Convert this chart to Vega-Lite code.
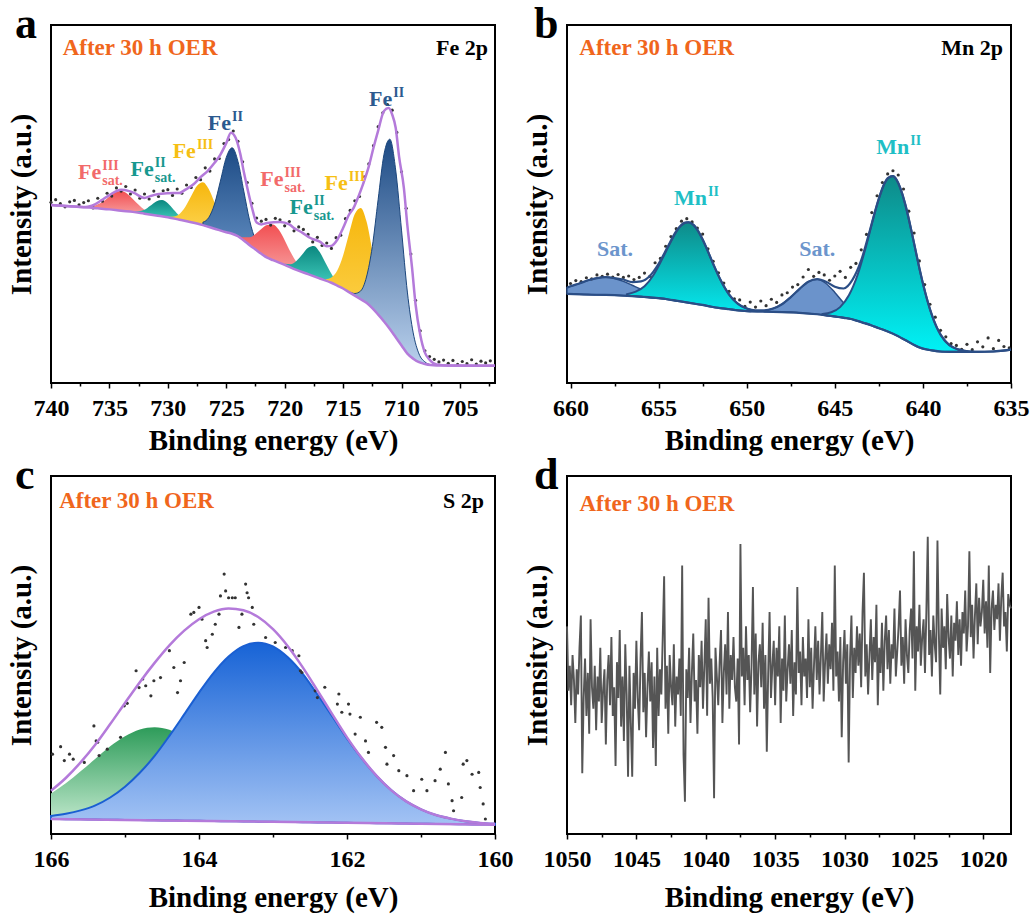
{
"$schema": "https://vega.github.io/schema/vega-lite/v6.json",
"background": "white",
"padding": {"left": 6, "top": 2, "right": 10, "bottom": 4},
"config": {
 "font": "Liberation Serif",
 "view": {"stroke": "#000000", "strokeWidth": 2},
 "axis": {"grid": false, "domain": false, "labelFont": "Liberation Serif", "labelFontWeight": "bold", "labelFontSize": 24, "labelColor": "#000000", "titleFont": "Liberation Serif", "titleFontWeight": "bold", "titleFontSize": 29, "titleColor": "#000000", "tickColor": "#000000", "tickWidth": 1.5},
 "axisX": {"tickSize": 5, "labelPadding": 8, "labelFlush": false, "labelOverlap": false, "format": "d"},
 "axisY": {"labels": false, "ticks": false, "titlePadding": 15},
 "title": {"anchor": "start", "frame": "group", "font": "Liberation Serif", "fontSize": 44, "fontWeight": "bold", "color": "#000000", "baseline": "alphabetic"},
 "text": {"font": "Liberation Serif", "fontWeight": "bold"}
},
"datasets": {
 "comp": [
  {"c":"a1","x":737,"lo":49.1,"hi":49.2},{"c":"a1","x":736.5,"lo":48.9,"hi":49.3},{"c":"a1","x":736,"lo":48.8,"hi":49.9},{"c":"a1","x":735.5,"lo":48.6,"hi":50.8},{"c":"a1","x":735,"lo":48.5,"hi":52.1},{"c":"a1","x":734.5,"lo":48.3,"hi":53.3},{"c":"a1","x":734,"lo":48.1,"hi":53.6},{"c":"a1","x":733.5,"lo":47.9,"hi":52.9},{"c":"a1","x":733,"lo":47.8,"hi":51.4},{"c":"a1","x":732.5,"lo":47.6,"hi":49.8},{"c":"a1","x":732,"lo":47.3,"hi":48.4},{"c":"a1","x":731.5,"lo":47.1,"hi":47.5},{"c":"a1","x":731,"lo":46.8,"hi":46.9},
  {"c":"a2","x":733,"lo":47.8,"hi":47.9},{"c":"a2","x":732.5,"lo":47.6,"hi":48.0},{"c":"a2","x":732,"lo":47.3,"hi":48.4},{"c":"a2","x":731.5,"lo":47.1,"hi":49.5},{"c":"a2","x":731,"lo":46.8,"hi":50.7},{"c":"a2","x":730.5,"lo":46.6,"hi":51.1},{"c":"a2","x":730,"lo":46.3,"hi":50.2},{"c":"a2","x":729.5,"lo":46.0,"hi":48.4},{"c":"a2","x":729,"lo":45.6,"hi":46.7},{"c":"a2","x":728.5,"lo":45.3,"hi":45.7},{"c":"a2","x":728,"lo":44.9,"hi":45.0},
  {"c":"a3","x":730,"lo":46.3,"hi":46.4},{"c":"a3","x":729.5,"lo":46.0,"hi":46.5},{"c":"a3","x":729,"lo":45.6,"hi":47.2},{"c":"a3","x":728.5,"lo":45.3,"hi":49.2},{"c":"a3","x":728,"lo":44.9,"hi":52.2},{"c":"a3","x":727.5,"lo":44.5,"hi":55.1},{"c":"a3","x":727,"lo":44.1,"hi":56.1},{"c":"a3","x":726.5,"lo":43.6,"hi":54.2},{"c":"a3","x":726,"lo":43.1,"hi":50.4},{"c":"a3","x":725.5,"lo":42.6,"hi":46.5},{"c":"a3","x":725,"lo":42.1,"hi":43.7},{"c":"a3","x":724.5,"lo":41.7,"hi":42.2},{"c":"a3","x":724,"lo":41.0,"hi":41.1},
  {"c":"a4","x":727,"lo":44.1,"hi":44.9},{"c":"a4","x":726.5,"lo":43.6,"hi":46.2},{"c":"a4","x":726,"lo":43.1,"hi":50.0},{"c":"a4","x":725.5,"lo":42.6,"hi":56.4},{"c":"a4","x":725,"lo":42.1,"hi":63.0},{"c":"a4","x":724.5,"lo":41.7,"hi":65.7},{"c":"a4","x":724,"lo":41.0,"hi":61.9},{"c":"a4","x":723.5,"lo":39.8,"hi":53.6},{"c":"a4","x":723,"lo":38.5,"hi":45.4},{"c":"a4","x":722.5,"lo":37.3,"hi":39.9},{"c":"a4","x":722,"lo":36.1,"hi":36.9},
  {"c":"a5","x":724,"lo":41.0,"hi":41.3},{"c":"a5","x":723.5,"lo":39.8,"hi":40.7},{"c":"a5","x":723,"lo":38.5,"hi":40.7},{"c":"a5","x":722.5,"lo":37.3,"hi":41.6},{"c":"a5","x":722,"lo":36.1,"hi":43.0},{"c":"a5","x":721.5,"lo":35.0,"hi":44.1},{"c":"a5","x":721,"lo":34.3,"hi":44.3},{"c":"a5","x":720.5,"lo":33.7,"hi":42.8},{"c":"a5","x":720,"lo":33.0,"hi":39.9},{"c":"a5","x":719.5,"lo":32.3,"hi":36.6},{"c":"a5","x":719,"lo":31.6,"hi":33.8},{"c":"a5","x":718.5,"lo":31.0,"hi":31.9},{"c":"a5","x":718,"lo":30.4,"hi":30.7},
  {"c":"a6","x":720,"lo":33.0,"hi":33.3},{"c":"a6","x":719.5,"lo":32.3,"hi":33.2},{"c":"a6","x":719,"lo":31.6,"hi":34.1},{"c":"a6","x":718.5,"lo":31.0,"hi":35.9},{"c":"a6","x":718,"lo":30.4,"hi":37.8},{"c":"a6","x":717.5,"lo":29.8,"hi":38.3},{"c":"a6","x":717,"lo":29.2,"hi":36.6},{"c":"a6","x":716.5,"lo":28.6,"hi":33.5},{"c":"a6","x":716,"lo":28.0,"hi":30.5},{"c":"a6","x":715.5,"lo":27.2,"hi":28.1},{"c":"a6","x":715,"lo":26.4,"hi":26.7},
  {"c":"a7","x":716.5,"lo":28.6,"hi":29.0},{"c":"a7","x":716,"lo":28.0,"hi":29.5},{"c":"a7","x":715.5,"lo":27.2,"hi":31.4},{"c":"a7","x":715,"lo":26.4,"hi":35.6},{"c":"a7","x":714.5,"lo":25.4,"hi":41.6},{"c":"a7","x":714,"lo":24.4,"hi":47.2},{"c":"a7","x":713.5,"lo":23.4,"hi":48.9},{"c":"a7","x":713,"lo":22.4,"hi":45.2},{"c":"a7","x":712.5,"lo":20.9,"hi":37.1},{"c":"a7","x":712,"lo":19.1,"hi":28.3},{"c":"a7","x":711.5,"lo":17.2,"hi":21.4},{"c":"a7","x":711,"lo":15.1,"hi":16.6},{"c":"a7","x":710.5,"lo":12.8,"hi":13.2},
  {"c":"a8","x":714.5,"lo":25.4,"hi":25.5},{"c":"a8","x":714,"lo":24.4,"hi":25.0},{"c":"a8","x":713.5,"lo":23.4,"hi":25.7},{"c":"a8","x":713,"lo":22.4,"hi":29.6},{"c":"a8","x":712.5,"lo":20.9,"hi":38.1},{"c":"a8","x":712,"lo":19.1,"hi":51.3},{"c":"a8","x":711.5,"lo":17.2,"hi":63.9},{"c":"a8","x":711,"lo":15.1,"hi":68.1},{"c":"a8","x":710.5,"lo":12.8,"hi":59.5},{"c":"a8","x":710,"lo":10.5,"hi":42.7},{"c":"a8","x":709.5,"lo":8.2,"hi":25.4},{"c":"a8","x":709,"lo":6.8,"hi":14.0},{"c":"a8","x":708.5,"lo":5.8,"hi":8.1},{"c":"a8","x":708,"lo":5.3,"hi":5.9},{"c":"a8","x":707.5,"lo":5.0,"hi":5.1},
  {"c":"b1","x":660.2,"lo":24.9,"hi":26.6},{"c":"b1","x":660,"lo":24.9,"hi":27.0},{"c":"b1","x":659.5,"lo":24.8,"hi":27.8},{"c":"b1","x":659,"lo":24.7,"hi":28.7},{"c":"b1","x":658.5,"lo":24.6,"hi":29.3},{"c":"b1","x":658,"lo":24.6,"hi":29.6},{"c":"b1","x":657.5,"lo":24.5,"hi":29.2},{"c":"b1","x":657,"lo":24.4,"hi":28.4},{"c":"b1","x":656.5,"lo":24.3,"hi":27.3},{"c":"b1","x":656,"lo":24.1,"hi":26.2},{"c":"b1","x":655.5,"lo":23.9,"hi":25.2},{"c":"b1","x":655,"lo":23.7,"hi":24.4},{"c":"b1","x":654.5,"lo":23.4,"hi":23.7},{"c":"b1","x":654,"lo":23.0,"hi":23.2},
  {"c":"b2","x":656.8,"lo":24.35,"hi":24.8},{"c":"b2","x":656.3,"lo":24.2,"hi":25.5},{"c":"b2","x":655.8,"lo":24.0,"hi":27.0},{"c":"b2","x":655.3,"lo":23.8,"hi":30.1},{"c":"b2","x":654.8,"lo":23.6,"hi":34.6},{"c":"b2","x":654.3,"lo":23.2,"hi":39.5},{"c":"b2","x":653.8,"lo":22.8,"hi":43.6},{"c":"b2","x":653.3,"lo":22.4,"hi":44.9},{"c":"b2","x":652.8,"lo":22.0,"hi":42.8},{"c":"b2","x":652.3,"lo":21.6,"hi":37.9},{"c":"b2","x":651.8,"lo":21.1,"hi":32.1},{"c":"b2","x":651.3,"lo":20.8,"hi":27.1},{"c":"b2","x":650.8,"lo":20.5,"hi":23.5},{"c":"b2","x":650.3,"lo":20.2,"hi":21.5},{"c":"b2","x":649.8,"lo":20.05,"hi":20.5},
  {"c":"b3","x":649,"lo":19.9,"hi":20.2},{"c":"b3","x":648.5,"lo":19.9,"hi":20.8},{"c":"b3","x":648,"lo":19.8,"hi":22.0},{"c":"b3","x":647.5,"lo":19.8,"hi":24.0},{"c":"b3","x":647,"lo":19.6,"hi":26.3},{"c":"b3","x":646.5,"lo":19.4,"hi":28.3},{"c":"b3","x":646,"lo":19.2,"hi":29.0},{"c":"b3","x":645.5,"lo":18.9,"hi":27.8},{"c":"b3","x":645,"lo":18.6,"hi":25.3},{"c":"b3","x":644.5,"lo":18.2,"hi":22.4},{"c":"b3","x":644,"lo":17.8,"hi":20.0},{"c":"b3","x":643.5,"lo":17.0,"hi":17.9},{"c":"b3","x":643,"lo":16.2,"hi":16.5},
  {"c":"b4","x":645.7,"lo":19.0,"hi":19.3},{"c":"b4","x":645.2,"lo":18.7,"hi":19.75},{"c":"b4","x":644.7,"lo":18.4,"hi":21.2},{"c":"b4","x":644.2,"lo":18.0,"hi":24.5},{"c":"b4","x":643.7,"lo":17.3,"hi":30.3},{"c":"b4","x":643.2,"lo":16.6,"hi":38.7},{"c":"b4","x":642.7,"lo":15.7,"hi":48.1},{"c":"b4","x":642.2,"lo":14.8,"hi":55.6},{"c":"b4","x":641.7,"lo":13.8,"hi":57.8},{"c":"b4","x":641.2,"lo":12.5,"hi":53.3},{"c":"b4","x":640.7,"lo":11.2,"hi":43.6},{"c":"b4","x":640.2,"lo":9.9,"hi":32.0},{"c":"b4","x":639.7,"lo":9.3,"hi":22.3},{"c":"b4","x":639.2,"lo":8.9,"hi":15.4},{"c":"b4","x":638.7,"lo":8.7,"hi":11.5},{"c":"b4","x":638.2,"lo":8.7,"hi":9.75},{"c":"b4","x":637.7,"lo":8.7,"hi":9.0},
  {"c":"c1","x":166,"lo":4.2,"hi":11.3},{"c":"c1","x":165.8,"lo":4.15,"hi":14.15},{"c":"c1","x":165.6,"lo":4.09,"hi":17.5},{"c":"c1","x":165.4,"lo":4.04,"hi":21.0},{"c":"c1","x":165.2,"lo":3.99,"hi":24.5},{"c":"c1","x":165,"lo":3.93,"hi":27.3},{"c":"c1","x":164.8,"lo":3.88,"hi":29.2},{"c":"c1","x":164.6,"lo":3.83,"hi":29.8},{"c":"c1","x":164.4,"lo":3.77,"hi":29.1},{"c":"c1","x":164.2,"lo":3.72,"hi":27.1},{"c":"c1","x":164,"lo":3.67,"hi":24.2},{"c":"c1","x":163.8,"lo":3.61,"hi":20.6},{"c":"c1","x":163.6,"lo":3.56,"hi":17.0},{"c":"c1","x":163.4,"lo":3.51,"hi":13.5},{"c":"c1","x":163.2,"lo":3.45,"hi":10.55},{"c":"c1","x":163,"lo":3.4,"hi":8.2},{"c":"c1","x":162.8,"lo":3.35,"hi":6.45},{"c":"c1","x":162.6,"lo":3.29,"hi":5.1},{"c":"c1","x":162.4,"lo":3.24,"hi":4.3},{"c":"c1","x":162.2,"lo":3.19,"hi":3.8},{"c":"c1","x":162,"lo":3.13,"hi":3.4},
  {"c":"c2","x":166,"lo":4.2,"hi":5.04},{"c":"c2","x":165.8,"lo":4.15,"hi":5.65},{"c":"c2","x":165.6,"lo":4.09,"hi":6.6},{"c":"c2","x":165.4,"lo":4.04,"hi":8.0},{"c":"c2","x":165.2,"lo":3.99,"hi":10.2},{"c":"c2","x":165,"lo":3.93,"hi":13.2},{"c":"c2","x":164.8,"lo":3.88,"hi":17.1},{"c":"c2","x":164.6,"lo":3.83,"hi":21.8},{"c":"c2","x":164.4,"lo":3.77,"hi":27.4},{"c":"c2","x":164.2,"lo":3.72,"hi":33.4},{"c":"c2","x":164,"lo":3.67,"hi":39.5},{"c":"c2","x":163.8,"lo":3.61,"hi":45.1},{"c":"c2","x":163.6,"lo":3.56,"hi":49.6},{"c":"c2","x":163.4,"lo":3.51,"hi":52.5},{"c":"c2","x":163.2,"lo":3.45,"hi":53.45},{"c":"c2","x":163,"lo":3.4,"hi":52.4},{"c":"c2","x":162.8,"lo":3.35,"hi":49.35},{"c":"c2","x":162.6,"lo":3.29,"hi":44.8},{"c":"c2","x":162.4,"lo":3.24,"hi":39.0},{"c":"c2","x":162.2,"lo":3.19,"hi":32.9},{"c":"c2","x":162,"lo":3.13,"hi":26.7},{"c":"c2","x":161.8,"lo":3.08,"hi":21.1},{"c":"c2","x":161.6,"lo":3.03,"hi":16.2},{"c":"c2","x":161.4,"lo":2.97,"hi":12.2},{"c":"c2","x":161.2,"lo":2.92,"hi":9.1},{"c":"c2","x":161,"lo":2.87,"hi":6.9},{"c":"c2","x":160.8,"lo":2.81,"hi":5.3},{"c":"c2","x":160.6,"lo":2.76,"hi":4.3},{"c":"c2","x":160.4,"lo":2.71,"hi":3.55},{"c":"c2","x":160.2,"lo":2.65,"hi":3.1},{"c":"c2","x":160,"lo":2.6,"hi":2.85}
 ],
 "bg": [
  {"p":"a","x":740,"y":49.7},{"p":"a","x":739,"y":49.5},{"p":"a","x":738,"y":49.3},{"p":"a","x":737,"y":49.1},{"p":"a","x":736,"y":48.8},{"p":"a","x":735,"y":48.5},{"p":"a","x":734,"y":48.1},{"p":"a","x":733,"y":47.8},{"p":"a","x":732,"y":47.3},{"p":"a","x":731,"y":46.8},{"p":"a","x":730,"y":46.3},{"p":"a","x":729,"y":45.6},{"p":"a","x":728,"y":44.9},{"p":"a","x":727,"y":44.1},{"p":"a","x":726,"y":43.1},{"p":"a","x":725,"y":42.1},{"p":"a","x":724.5,"y":41.7},{"p":"a","x":724,"y":41.0},{"p":"a","x":723.5,"y":39.8},{"p":"a","x":723,"y":38.5},{"p":"a","x":722.5,"y":37.3},{"p":"a","x":722,"y":36.1},{"p":"a","x":721.5,"y":35.0},{"p":"a","x":721,"y":34.3},{"p":"a","x":720,"y":33.0},{"p":"a","x":719,"y":31.6},{"p":"a","x":718,"y":30.4},{"p":"a","x":717,"y":29.2},{"p":"a","x":716,"y":28.0},{"p":"a","x":715.5,"y":27.2},{"p":"a","x":715,"y":26.4},{"p":"a","x":714.5,"y":25.4},{"p":"a","x":714,"y":24.4},{"p":"a","x":713.5,"y":23.4},{"p":"a","x":713,"y":22.4},{"p":"a","x":712.5,"y":20.9},{"p":"a","x":712,"y":19.1},{"p":"a","x":711.5,"y":17.2},{"p":"a","x":711,"y":15.1},{"p":"a","x":710.5,"y":12.8},{"p":"a","x":710,"y":10.5},{"p":"a","x":709.5,"y":8.2},{"p":"a","x":709,"y":6.8},{"p":"a","x":708.5,"y":5.8},{"p":"a","x":708,"y":5.3},{"p":"a","x":707.5,"y":5.0},{"p":"a","x":707,"y":4.9},{"p":"a","x":702,"y":4.8},
  {"p":"b","x":660.2,"y":24.9},{"p":"b","x":659,"y":24.7},{"p":"b","x":658,"y":24.6},{"p":"b","x":657,"y":24.4},{"p":"b","x":656,"y":24.1},{"p":"b","x":655,"y":23.7},{"p":"b","x":654.5,"y":23.4},{"p":"b","x":654,"y":23.0},{"p":"b","x":653.5,"y":22.6},{"p":"b","x":653,"y":22.2},{"p":"b","x":652.5,"y":21.8},{"p":"b","x":652,"y":21.3},{"p":"b","x":651.5,"y":20.9},{"p":"b","x":651,"y":20.6},{"p":"b","x":650.5,"y":20.3},{"p":"b","x":650,"y":20.1},{"p":"b","x":649,"y":19.9},{"p":"b","x":648,"y":19.8},{"p":"b","x":647,"y":19.6},{"p":"b","x":646,"y":19.2},{"p":"b","x":645.5,"y":18.9},{"p":"b","x":645,"y":18.6},{"p":"b","x":644.5,"y":18.2},{"p":"b","x":644,"y":17.8},{"p":"b","x":643.5,"y":17.0},{"p":"b","x":643,"y":16.2},{"p":"b","x":642.5,"y":15.3},{"p":"b","x":642,"y":14.4},{"p":"b","x":641.5,"y":13.3},{"p":"b","x":641,"y":12.0},{"p":"b","x":640.5,"y":10.6},{"p":"b","x":640,"y":9.6},{"p":"b","x":639.5,"y":9.1},{"p":"b","x":639,"y":8.8},{"p":"b","x":638.5,"y":8.7},{"p":"b","x":637,"y":8.7},{"p":"b","x":636,"y":8.8},{"p":"b","x":635,"y":9.3},
  {"p":"c","x":166,"y":4.2},{"p":"c","x":163,"y":3.4},{"p":"c","x":160,"y":2.6}
 ],
 "env": [
  {"p":"a","x":740,"y":49.7},{"p":"a","x":738.5,"y":49.4},{"p":"a","x":737.2,"y":49.1},{"p":"a","x":736.5,"y":49.5},{"p":"a","x":735.7,"y":51.0},{"p":"a","x":735,"y":52.5},{"p":"a","x":734,"y":54.0},{"p":"a","x":733.3,"y":53.6},{"p":"a","x":732.9,"y":53.1},{"p":"a","x":732,"y":51.7},{"p":"a","x":731.5,"y":52.2},{"p":"a","x":730.9,"y":52.7},{"p":"a","x":730,"y":53.0},{"p":"a","x":729,"y":53.1},{"p":"a","x":728.5,"y":54.0},{"p":"a","x":727.8,"y":55.5},{"p":"a","x":727.2,"y":57.5},{"p":"a","x":726.6,"y":59.2},{"p":"a","x":726,"y":61.5},{"p":"a","x":725.5,"y":63.8},{"p":"a","x":725,"y":67.0},{"p":"a","x":724.6,"y":69.9},{"p":"a","x":724.2,"y":68.5},{"p":"a","x":723.8,"y":64.0},{"p":"a","x":723.5,"y":59.0},{"p":"a","x":723.2,"y":54.5},{"p":"a","x":722.8,"y":49.0},{"p":"a","x":722.4,"y":44.8},{"p":"a","x":722,"y":44.3},{"p":"a","x":721.5,"y":44.7},{"p":"a","x":720.4,"y":45.0},{"p":"a","x":719.6,"y":44.3},{"p":"a","x":719.2,"y":43.3},{"p":"a","x":718.5,"y":42.0},{"p":"a","x":717.8,"y":40.5},{"p":"a","x":717,"y":39.5},{"p":"a","x":716.4,"y":38.2},{"p":"a","x":716,"y":38.3},{"p":"a","x":715.5,"y":40.0},{"p":"a","x":715,"y":43.3},{"p":"a","x":714.5,"y":47.0},{"p":"a","x":714.1,"y":48.9},{"p":"a","x":713.7,"y":52.0},{"p":"a","x":713.3,"y":55.5},{"p":"a","x":712.8,"y":60.5},{"p":"a","x":712.4,"y":65.7},{"p":"a","x":712,"y":70.5},{"p":"a","x":711.5,"y":76.0},{"p":"a","x":711.1,"y":76.8},{"p":"a","x":710.8,"y":75.0},{"p":"a","x":710.5,"y":71.3},{"p":"a","x":710.2,"y":63.0},{"p":"a","x":709.8,"y":54.5},{"p":"a","x":709.5,"y":44.0},{"p":"a","x":709.1,"y":32.2},{"p":"a","x":708.8,"y":22.0},{"p":"a","x":708.4,"y":13.5},{"p":"a","x":708,"y":8.5},{"p":"a","x":707.6,"y":6.5},{"p":"a","x":707,"y":5.2},{"p":"a","x":706,"y":4.9},{"p":"a","x":702,"y":4.8},
  {"p":"b","x":660.2,"y":26.6},{"p":"b","x":660,"y":27.0},{"p":"b","x":659.5,"y":27.8},{"p":"b","x":659,"y":28.7},{"p":"b","x":658.5,"y":29.3},{"p":"b","x":658,"y":29.6},{"p":"b","x":657.5,"y":29.3},{"p":"b","x":657,"y":28.9},{"p":"b","x":656.5,"y":28.2},{"p":"b","x":656,"y":28.4},{"p":"b","x":655.5,"y":29.9},{"p":"b","x":655,"y":33.3},{"p":"b","x":654.5,"y":37.9},{"p":"b","x":654,"y":42.4},{"p":"b","x":653.5,"y":44.8},{"p":"b","x":653.3,"y":44.9},{"p":"b","x":653,"y":44.1},{"p":"b","x":652.5,"y":40.1},{"p":"b","x":652,"y":34.4},{"p":"b","x":651.5,"y":28.9},{"p":"b","x":651,"y":24.7},{"p":"b","x":650.5,"y":22.1},{"p":"b","x":650,"y":20.8},{"p":"b","x":649.5,"y":20.3},{"p":"b","x":649,"y":20.3},{"p":"b","x":648.5,"y":20.8},{"p":"b","x":648,"y":22.0},{"p":"b","x":647.5,"y":24.0},{"p":"b","x":647,"y":26.3},{"p":"b","x":646.5,"y":28.3},{"p":"b","x":646,"y":29.0},{"p":"b","x":645.5,"y":28.3},{"p":"b","x":645,"y":26.9},{"p":"b","x":644.5,"y":26.4},{"p":"b","x":644,"y":28.8},{"p":"b","x":643.5,"y":34.3},{"p":"b","x":643,"y":42.8},{"p":"b","x":642.5,"y":51.5},{"p":"b","x":642,"y":57.2},{"p":"b","x":641.7,"y":57.8},{"p":"b","x":641.5,"y":56.8},{"p":"b","x":641,"y":49.9},{"p":"b","x":640.5,"y":39.0},{"p":"b","x":640,"y":27.8},{"p":"b","x":639.5,"y":19.1},{"p":"b","x":639,"y":13.5},{"p":"b","x":638.5,"y":10.6},{"p":"b","x":638,"y":9.4},{"p":"b","x":637.5,"y":8.9},{"p":"b","x":637,"y":8.7},{"p":"b","x":636,"y":8.8},{"p":"b","x":635,"y":9.3},
  {"p":"c","x":166,"y":12.1},{"p":"c","x":165.8,"y":15.65},{"p":"c","x":165.6,"y":20.0},{"p":"c","x":165.4,"y":25.0},{"p":"c","x":165.2,"y":30.7},{"p":"c","x":165,"y":36.6},{"p":"c","x":164.8,"y":42.4},{"p":"c","x":164.6,"y":47.8},{"p":"c","x":164.4,"y":52.7},{"p":"c","x":164.2,"y":56.8},{"p":"c","x":164,"y":60.0},{"p":"c","x":163.8,"y":62.1},{"p":"c","x":163.6,"y":63.0},{"p":"c","x":163.4,"y":62.5},{"p":"c","x":163.2,"y":60.6},{"p":"c","x":163,"y":57.2},{"p":"c","x":162.8,"y":52.45},{"p":"c","x":162.6,"y":46.6},{"p":"c","x":162.4,"y":40.1},{"p":"c","x":162.2,"y":33.5},{"p":"c","x":162,"y":27.0},{"p":"c","x":161.8,"y":21.2},{"p":"c","x":161.6,"y":16.25},{"p":"c","x":161.4,"y":12.2},{"p":"c","x":161.2,"y":9.1},{"p":"c","x":161,"y":6.9},{"p":"c","x":160.8,"y":5.3},{"p":"c","x":160.6,"y":4.3},{"p":"c","x":160.4,"y":3.55},{"p":"c","x":160.2,"y":3.1},{"p":"c","x":160,"y":2.85}
 ],
 "dots": [
  {"p":"a","x":740.0,"y":50.5},{"p":"a","x":739.6,"y":51.2},{"p":"a","x":739.2,"y":50.1},{"p":"a","x":738.8,"y":49.2},{"p":"a","x":738.4,"y":50.6},{"p":"a","x":738.0,"y":51.0},{"p":"a","x":737.6,"y":49.8},{"p":"a","x":737.2,"y":50.4},{"p":"a","x":736.8,"y":50.9},{"p":"a","x":736.4,"y":48.9},{"p":"a","x":736.0,"y":51.6},{"p":"a","x":735.6,"y":50.8},{"p":"a","x":735.2,"y":53.0},{"p":"a","x":734.8,"y":52.2},{"p":"a","x":734.4,"y":54.5},{"p":"a","x":734.0,"y":53.6},{"p":"a","x":733.6,"y":54.9},{"p":"a","x":733.2,"y":52.8},{"p":"a","x":732.8,"y":53.9},{"p":"a","x":732.4,"y":51.6},{"p":"a","x":732.0,"y":52.8},{"p":"a","x":731.6,"y":51.4},{"p":"a","x":731.2,"y":53.6},{"p":"a","x":730.8,"y":52.1},{"p":"a","x":730.4,"y":53.7},{"p":"a","x":730.0,"y":54.0},{"p":"a","x":729.6,"y":52.4},{"p":"a","x":729.2,"y":54.2},{"p":"a","x":728.8,"y":53.0},{"p":"a","x":728.4,"y":55.3},{"p":"a","x":728.0,"y":54.6},{"p":"a","x":727.6,"y":57.4},{"p":"a","x":727.2,"y":56.8},{"p":"a","x":726.8,"y":60.1},{"p":"a","x":726.4,"y":59.2},{"p":"a","x":726.0,"y":62.6},{"p":"a","x":725.6,"y":62.7},{"p":"a","x":725.2,"y":66.9},{"p":"a","x":724.8,"y":68.0},{"p":"a","x":724.4,"y":70.4},{"p":"a","x":724.0,"y":67.5},{"p":"a","x":723.6,"y":61.8},{"p":"a","x":723.2,"y":56.0},{"p":"a","x":722.8,"y":50.2},{"p":"a","x":722.4,"y":46.1},{"p":"a","x":722.0,"y":45.2},{"p":"a","x":721.6,"y":45.7},{"p":"a","x":721.2,"y":44.1},{"p":"a","x":720.8,"y":46.0},{"p":"a","x":720.4,"y":45.6},{"p":"a","x":720.0,"y":43.9},{"p":"a","x":719.6,"y":45.1},{"p":"a","x":719.2,"y":42.5},{"p":"a","x":718.8,"y":43.6},{"p":"a","x":718.4,"y":42.9},{"p":"a","x":718.0,"y":41.5},{"p":"a","x":717.6,"y":39.4},{"p":"a","x":717.2,"y":40.7},{"p":"a","x":716.8,"y":38.4},{"p":"a","x":716.4,"y":39.1},{"p":"a","x":716.0,"y":37.6},{"p":"a","x":715.6,"y":40.6},{"p":"a","x":715.2,"y":41.3},{"p":"a","x":714.8,"y":45.9},{"p":"a","x":714.4,"y":48.2},{"p":"a","x":714.0,"y":50.9},{"p":"a","x":713.6,"y":52.1},{"p":"a","x":713.2,"y":57.6},{"p":"a","x":712.8,"y":61.2},{"p":"a","x":712.4,"y":66.3},{"p":"a","x":712.0,"y":71.6},{"p":"a","x":711.6,"y":75.5},{"p":"a","x":711.2,"y":77.8},{"p":"a","x":710.8,"y":76.2},{"p":"a","x":710.4,"y":70.0},{"p":"a","x":710.0,"y":59.0},{"p":"a","x":709.6,"y":48.8},{"p":"a","x":709.2,"y":36.0},{"p":"a","x":708.8,"y":23.1},{"p":"a","x":708.4,"y":14.6},{"p":"a","x":708.0,"y":9.0},{"p":"a","x":707.6,"y":7.4},{"p":"a","x":707.2,"y":6.6},{"p":"a","x":706.8,"y":5.9},{"p":"a","x":706.4,"y":6.4},{"p":"a","x":706.0,"y":5.5},{"p":"a","x":705.6,"y":6.3},{"p":"a","x":705.2,"y":5.2},{"p":"a","x":704.8,"y":6.0},{"p":"a","x":704.4,"y":5.4},{"p":"a","x":704.0,"y":6.5},{"p":"a","x":703.6,"y":5.3},{"p":"a","x":703.2,"y":6.1},{"p":"a","x":702.8,"y":5.6},{"p":"a","x":702.4,"y":6.2},
  {"p":"b","x":660.0,"y":27.8},{"p":"b","x":659.7,"y":28.6},{"p":"b","x":659.4,"y":28.3},{"p":"b","x":659.1,"y":29.4},{"p":"b","x":658.8,"y":29.1},{"p":"b","x":658.5,"y":30.2},{"p":"b","x":658.2,"y":29.8},{"p":"b","x":657.9,"y":30.4},{"p":"b","x":657.6,"y":29.6},{"p":"b","x":657.3,"y":30.3},{"p":"b","x":657.0,"y":29.5},{"p":"b","x":656.7,"y":29.9},{"p":"b","x":656.4,"y":28.9},{"p":"b","x":656.1,"y":29.5},{"p":"b","x":655.8,"y":30.7},{"p":"b","x":655.5,"y":29.8},{"p":"b","x":655.2,"y":33.6},{"p":"b","x":654.9,"y":34.8},{"p":"b","x":654.6,"y":38.2},{"p":"b","x":654.3,"y":40.9},{"p":"b","x":654.0,"y":43.1},{"p":"b","x":653.7,"y":45.2},{"p":"b","x":653.4,"y":45.9},{"p":"b","x":653.1,"y":45.0},{"p":"b","x":652.8,"y":43.3},{"p":"b","x":652.5,"y":41.6},{"p":"b","x":652.2,"y":37.5},{"p":"b","x":651.9,"y":34.0},{"p":"b","x":651.6,"y":30.8},{"p":"b","x":651.3,"y":27.9},{"p":"b","x":651.0,"y":25.6},{"p":"b","x":650.7,"y":23.5},{"p":"b","x":650.4,"y":23.2},{"p":"b","x":650.1,"y":21.4},{"p":"b","x":649.8,"y":22.6},{"p":"b","x":649.5,"y":21.2},{"p":"b","x":649.2,"y":22.9},{"p":"b","x":648.9,"y":21.6},{"p":"b","x":648.6,"y":23.4},{"p":"b","x":648.3,"y":22.5},{"p":"b","x":648.0,"y":24.6},{"p":"b","x":647.7,"y":25.2},{"p":"b","x":647.4,"y":26.8},{"p":"b","x":647.1,"y":27.5},{"p":"b","x":646.8,"y":29.6},{"p":"b","x":646.5,"y":31.7},{"p":"b","x":646.2,"y":29.8},{"p":"b","x":645.9,"y":30.9},{"p":"b","x":645.6,"y":30.2},{"p":"b","x":645.3,"y":28.7},{"p":"b","x":645.0,"y":29.9},{"p":"b","x":644.7,"y":31.2},{"p":"b","x":644.4,"y":29.5},{"p":"b","x":644.1,"y":32.3},{"p":"b","x":643.8,"y":33.4},{"p":"b","x":643.5,"y":37.2},{"p":"b","x":643.2,"y":41.5},{"p":"b","x":642.9,"y":47.6},{"p":"b","x":642.6,"y":52.3},{"p":"b","x":642.3,"y":56.0},{"p":"b","x":642.0,"y":58.4},{"p":"b","x":641.7,"y":59.3},{"p":"b","x":641.4,"y":58.1},{"p":"b","x":641.1,"y":54.2},{"p":"b","x":640.8,"y":48.0},{"p":"b","x":640.5,"y":41.9},{"p":"b","x":640.2,"y":34.1},{"p":"b","x":639.9,"y":27.5},{"p":"b","x":639.6,"y":22.0},{"p":"b","x":639.3,"y":18.4},{"p":"b","x":639.0,"y":14.7},{"p":"b","x":638.7,"y":12.9},{"p":"b","x":638.4,"y":11.0},{"p":"b","x":638.1,"y":10.5},{"p":"b","x":637.8,"y":9.4},{"p":"b","x":637.5,"y":10.8},{"p":"b","x":637.2,"y":9.3},{"p":"b","x":636.9,"y":11.5},{"p":"b","x":636.6,"y":10.1},{"p":"b","x":636.3,"y":12.6},{"p":"b","x":636.0,"y":9.6},{"p":"b","x":635.7,"y":11.9},{"p":"b","x":635.4,"y":10.2},{"p":"b","x":635.1,"y":9.8},
  {"p":"c","x":165.98,"y":22.3},{"p":"c","x":165.87,"y":24.4},{"p":"c","x":165.82,"y":20.5},{"p":"c","x":165.75,"y":22.3},{"p":"c","x":165.7,"y":20.9},{"p":"c","x":165.55,"y":20.0},{"p":"c","x":165.42,"y":30.2},{"p":"c","x":165.39,"y":26.0},{"p":"c","x":165.37,"y":25.6},{"p":"c","x":165.35,"y":21.9},{"p":"c","x":165.24,"y":23.7},{"p":"c","x":165.06,"y":27.0},{"p":"c","x":165.01,"y":35.8},{"p":"c","x":164.97,"y":36.5},{"p":"c","x":164.85,"y":45.6},{"p":"c","x":164.81,"y":40.9},{"p":"c","x":164.76,"y":43.3},{"p":"c","x":164.72,"y":41.4},{"p":"c","x":164.65,"y":38.6},{"p":"c","x":164.61,"y":42.8},{"p":"c","x":164.52,"y":43.7},{"p":"c","x":164.4,"y":51.2},{"p":"c","x":164.34,"y":46.5},{"p":"c","x":164.29,"y":39.5},{"p":"c","x":164.25,"y":42.8},{"p":"c","x":164.2,"y":47.9},{"p":"c","x":164.11,"y":61.4},{"p":"c","x":164.07,"y":61.9},{"p":"c","x":164.0,"y":63.3},{"p":"c","x":163.96,"y":60.0},{"p":"c","x":163.91,"y":54.0},{"p":"c","x":163.89,"y":52.1},{"p":"c","x":163.82,"y":55.8},{"p":"c","x":163.78,"y":58.6},{"p":"c","x":163.73,"y":61.4},{"p":"c","x":163.71,"y":66.5},{"p":"c","x":163.66,"y":72.6},{"p":"c","x":163.64,"y":67.9},{"p":"c","x":163.6,"y":66.0},{"p":"c","x":163.55,"y":66.0},{"p":"c","x":163.51,"y":66.0},{"p":"c","x":163.46,"y":57.7},{"p":"c","x":163.42,"y":61.4},{"p":"c","x":163.37,"y":69.8},{"p":"c","x":163.35,"y":67.4},{"p":"c","x":163.33,"y":66.0},{"p":"c","x":163.28,"y":63.3},{"p":"c","x":163.26,"y":58.6},{"p":"c","x":163.1,"y":54.9},{"p":"c","x":162.97,"y":53.5},{"p":"c","x":162.83,"y":52.1},{"p":"c","x":162.74,"y":51.2},{"p":"c","x":162.65,"y":49.8},{"p":"c","x":162.63,"y":45.6},{"p":"c","x":162.61,"y":45.1},{"p":"c","x":162.43,"y":40.0},{"p":"c","x":162.4,"y":38.1},{"p":"c","x":162.3,"y":41.0},{"p":"c","x":162.13,"y":36.3},{"p":"c","x":162.11,"y":39.1},{"p":"c","x":162.07,"y":34.0},{"p":"c","x":161.98,"y":36.3},{"p":"c","x":161.96,"y":33.5},{"p":"c","x":161.89,"y":27.9},{"p":"c","x":161.82,"y":32.6},{"p":"c","x":161.75,"y":26.0},{"p":"c","x":161.71,"y":22.8},{"p":"c","x":161.6,"y":31.2},{"p":"c","x":161.53,"y":29.8},{"p":"c","x":161.48,"y":24.2},{"p":"c","x":161.46,"y":19.5},{"p":"c","x":161.37,"y":21.9},{"p":"c","x":161.3,"y":17.7},{"p":"c","x":161.19,"y":16.3},{"p":"c","x":161.1,"y":12.1},{"p":"c","x":160.99,"y":15.3},{"p":"c","x":160.92,"y":12.1},{"p":"c","x":160.81,"y":14.9},{"p":"c","x":160.74,"y":18.1},{"p":"c","x":160.67,"y":22.8},{"p":"c","x":160.63,"y":14.0},{"p":"c","x":160.58,"y":9.3},{"p":"c","x":160.56,"y":6.5},{"p":"c","x":160.45,"y":10.2},{"p":"c","x":160.43,"y":19.5},{"p":"c","x":160.38,"y":20.5},{"p":"c","x":160.31,"y":16.7},{"p":"c","x":160.22,"y":17.2},{"p":"c","x":160.2,"y":13.0},{"p":"c","x":160.16,"y":8.4},{"p":"c","x":160.13,"y":4.2}
 ],
 "lab": [
  {"p":"a","x":735.7,"y":57,"base":"Fe","sup":"III","sub":"sat.","k":"s3"},
  {"p":"a","x":731.2,"y":57.8,"base":"Fe","sup":"II","sub":"sat.","k":"t2"},
  {"p":"a","x":727.6,"y":62.9,"base":"Fe","sup":"III","sub":"","k":"g3"},
  {"p":"a","x":724.6,"y":70.7,"base":"Fe","sup":"II","sub":"","k":"b2"},
  {"p":"a","x":720.1,"y":55,"base":"Fe","sup":"III","sub":"sat.","k":"s3"},
  {"p":"a","x":717.6,"y":47.2,"base":"Fe","sup":"II","sub":"sat.","k":"t2"},
  {"p":"a","x":714.6,"y":54,"base":"Fe","sup":"III","sub":"","k":"g3"},
  {"p":"a","x":710.8,"y":77.4,"base":"Fe","sup":"II","sub":"","k":"b2"},
  {"p":"b","x":656.45,"y":35.6,"base":"Sat.","sup":"","sub":"","k":"sat"},
  {"p":"b","x":652.25,"y":49.7,"base":"Mn","sup":"II","sub":"","k":"mn"},
  {"p":"b","x":644.97,"y":35.5,"base":"Sat.","sup":"","sub":"","k":"sat"},
  {"p":"b","x":640.77,"y":64.0,"base":"Mn","sup":"II","sub":"","k":"mn"}
 ],
 "ann": [
  {"p":"a","s":"L","x":739,"y":91.5,"t":"After 30 h OER","k":"or"},
  {"p":"a","s":"R","x":702.6,"y":91.5,"t":"Fe 2p","k":"bk"},
  {"p":"b","s":"L","x":659.5,"y":91.6,"t":"After 30 h OER","k":"or"},
  {"p":"b","s":"R","x":635.45,"y":91.6,"t":"Mn 2p","k":"bk"},
  {"p":"c","s":"L","x":165.89,"y":91,"t":"After 30 h OER","k":"or"},
  {"p":"c","s":"R","x":160.15,"y":91,"t":"S 2p","k":"bk"},
  {"p":"d","s":"L","x":1049.1,"y":90.2,"t":"After 30 h OER","k":"or"}
 ],
 "spec": [
  {"x":1050.0,"y":58},{"x":1049.9,"y":40},{"x":1049.8,"y":47},{"x":1049.7,"y":36},{"x":1049.6,"y":50},{"x":1049.5,"y":43},{"x":1049.4,"y":31},{"x":1049.3,"y":46},{"x":1049.2,"y":39},{"x":1049.1,"y":52},
  {"x":1049.0,"y":61},{"x":1048.9,"y":17},{"x":1048.8,"y":38},{"x":1048.7,"y":49},{"x":1048.6,"y":33},{"x":1048.5,"y":45},{"x":1048.4,"y":28},{"x":1048.3,"y":60},{"x":1048.2,"y":41},{"x":1048.1,"y":35},
  {"x":1048.0,"y":47},{"x":1047.9,"y":29},{"x":1047.8,"y":44},{"x":1047.7,"y":37},{"x":1047.6,"y":52},{"x":1047.5,"y":31},{"x":1047.4,"y":40},{"x":1047.3,"y":46},{"x":1047.2,"y":25},{"x":1047.1,"y":43},
  {"x":1047.0,"y":50},{"x":1046.9,"y":36},{"x":1046.8,"y":55},{"x":1046.7,"y":33},{"x":1046.6,"y":41},{"x":1046.5,"y":19},{"x":1046.4,"y":48},{"x":1046.3,"y":38},{"x":1046.2,"y":57},{"x":1046.1,"y":30},
  {"x":1046.0,"y":44},{"x":1045.9,"y":26},{"x":1045.8,"y":53},{"x":1045.7,"y":39},{"x":1045.6,"y":16},{"x":1045.5,"y":47},{"x":1045.4,"y":31},{"x":1045.3,"y":16},{"x":1045.2,"y":45},{"x":1045.1,"y":35},
  {"x":1045.0,"y":54},{"x":1044.9,"y":38},{"x":1044.8,"y":29},{"x":1044.7,"y":49},{"x":1044.6,"y":62},{"x":1044.5,"y":34},{"x":1044.4,"y":45},{"x":1044.3,"y":27},{"x":1044.2,"y":41},{"x":1044.1,"y":51},
  {"x":1044.0,"y":37},{"x":1043.9,"y":48},{"x":1043.8,"y":24},{"x":1043.7,"y":44},{"x":1043.6,"y":19},{"x":1043.5,"y":52},{"x":1043.4,"y":33},{"x":1043.3,"y":46},{"x":1043.2,"y":39},{"x":1043.1,"y":55},
  {"x":1043.0,"y":72},{"x":1042.9,"y":35},{"x":1042.8,"y":47},{"x":1042.7,"y":28},{"x":1042.6,"y":50},{"x":1042.5,"y":41},{"x":1042.4,"y":36},{"x":1042.3,"y":53},{"x":1042.2,"y":30},{"x":1042.1,"y":44},
  {"x":1042.0,"y":39},{"x":1041.9,"y":49},{"x":1041.8,"y":33},{"x":1041.7,"y":75},{"x":1041.6,"y":22},{"x":1041.5,"y":9},{"x":1041.4,"y":46},{"x":1041.3,"y":38},{"x":1041.2,"y":52},{"x":1041.1,"y":31},
  {"x":1041.0,"y":45},{"x":1040.9,"y":56},{"x":1040.8,"y":37},{"x":1040.7,"y":43},{"x":1040.6,"y":28},{"x":1040.5,"y":50},{"x":1040.4,"y":41},{"x":1040.3,"y":54},{"x":1040.2,"y":35},{"x":1040.1,"y":47},
  {"x":1040.0,"y":60},{"x":1039.9,"y":33},{"x":1039.8,"y":66},{"x":1039.7,"y":42},{"x":1039.6,"y":49},{"x":1039.5,"y":38},{"x":1039.4,"y":10},{"x":1039.3,"y":52},{"x":1039.2,"y":44},{"x":1039.1,"y":36},
  {"x":1039.0,"y":48},{"x":1038.9,"y":57},{"x":1038.8,"y":31},{"x":1038.7,"y":45},{"x":1038.6,"y":53},{"x":1038.5,"y":39},{"x":1038.4,"y":62},{"x":1038.3,"y":35},{"x":1038.2,"y":50},{"x":1038.1,"y":43},
  {"x":1038.0,"y":55},{"x":1037.9,"y":41},{"x":1037.8,"y":37},{"x":1037.7,"y":49},{"x":1037.6,"y":25},{"x":1037.5,"y":81},{"x":1037.4,"y":44},{"x":1037.3,"y":52},{"x":1037.2,"y":36},{"x":1037.1,"y":58},
  {"x":1037.0,"y":43},{"x":1036.9,"y":50},{"x":1036.8,"y":34},{"x":1036.7,"y":47},{"x":1036.6,"y":69},{"x":1036.5,"y":39},{"x":1036.4,"y":56},{"x":1036.3,"y":30},{"x":1036.2,"y":48},{"x":1036.1,"y":53},
  {"x":1036.0,"y":41},{"x":1035.9,"y":59},{"x":1035.8,"y":35},{"x":1035.7,"y":50},{"x":1035.6,"y":23},{"x":1035.5,"y":45},{"x":1035.4,"y":62},{"x":1035.3,"y":38},{"x":1035.2,"y":47},{"x":1035.1,"y":54},
  {"x":1035.0,"y":36},{"x":1034.9,"y":52},{"x":1034.8,"y":44},{"x":1034.7,"y":58},{"x":1034.6,"y":31},{"x":1034.5,"y":49},{"x":1034.4,"y":40},{"x":1034.3,"y":61},{"x":1034.2,"y":37},{"x":1034.1,"y":46},
  {"x":1034.0,"y":53},{"x":1033.9,"y":42},{"x":1033.8,"y":57},{"x":1033.7,"y":33},{"x":1033.6,"y":48},{"x":1033.5,"y":39},{"x":1033.4,"y":69},{"x":1033.3,"y":45},{"x":1033.2,"y":51},{"x":1033.1,"y":36},
  {"x":1033.0,"y":55},{"x":1032.9,"y":44},{"x":1032.8,"y":49},{"x":1032.7,"y":38},{"x":1032.6,"y":60},{"x":1032.5,"y":41},{"x":1032.4,"y":52},{"x":1032.3,"y":35},{"x":1032.2,"y":47},{"x":1032.1,"y":58},
  {"x":1032.0,"y":43},{"x":1031.9,"y":54},{"x":1031.8,"y":39},{"x":1031.7,"y":50},{"x":1031.6,"y":62},{"x":1031.5,"y":37},{"x":1031.4,"y":48},{"x":1031.3,"y":56},{"x":1031.2,"y":42},{"x":1031.1,"y":53},
  {"x":1031.0,"y":46},{"x":1030.9,"y":59},{"x":1030.8,"y":40},{"x":1030.7,"y":75},{"x":1030.6,"y":44},{"x":1030.5,"y":51},{"x":1030.4,"y":37},{"x":1030.3,"y":55},{"x":1030.2,"y":27},{"x":1030.1,"y":48},
  {"x":1030.0,"y":57},{"x":1029.9,"y":42},{"x":1029.8,"y":53},{"x":1029.7,"y":20},{"x":1029.6,"y":49},{"x":1029.5,"y":61},{"x":1029.4,"y":38},{"x":1029.3,"y":52},{"x":1029.2,"y":45},{"x":1029.1,"y":58},
  {"x":1029.0,"y":47},{"x":1028.9,"y":56},{"x":1028.8,"y":41},{"x":1028.7,"y":62},{"x":1028.6,"y":73},{"x":1028.5,"y":44},{"x":1028.4,"y":53},{"x":1028.3,"y":39},{"x":1028.2,"y":50},{"x":1028.1,"y":60},
  {"x":1028.0,"y":43},{"x":1027.9,"y":55},{"x":1027.8,"y":48},{"x":1027.7,"y":64},{"x":1027.6,"y":36},{"x":1027.5,"y":52},{"x":1027.4,"y":45},{"x":1027.3,"y":59},{"x":1027.2,"y":40},{"x":1027.1,"y":54},
  {"x":1027.0,"y":61},{"x":1026.9,"y":46},{"x":1026.8,"y":57},{"x":1026.7,"y":42},{"x":1026.6,"y":53},{"x":1026.5,"y":49},{"x":1026.4,"y":63},{"x":1026.3,"y":44},{"x":1026.2,"y":51},{"x":1026.1,"y":58},
  {"x":1026.0,"y":68},{"x":1025.9,"y":47},{"x":1025.8,"y":55},{"x":1025.7,"y":42},{"x":1025.6,"y":60},{"x":1025.5,"y":50},{"x":1025.4,"y":45},{"x":1025.3,"y":57},{"x":1025.2,"y":63},{"x":1025.1,"y":49},
  {"x":1025.0,"y":79},{"x":1024.9,"y":40},{"x":1024.8,"y":58},{"x":1024.7,"y":51},{"x":1024.6,"y":64},{"x":1024.5,"y":47},{"x":1024.4,"y":55},{"x":1024.3,"y":60},{"x":1024.2,"y":45},{"x":1024.1,"y":62},
  {"x":1024.0,"y":83},{"x":1023.9,"y":50},{"x":1023.8,"y":57},{"x":1023.7,"y":44},{"x":1023.6,"y":61},{"x":1023.5,"y":53},{"x":1023.4,"y":48},{"x":1023.3,"y":82},{"x":1023.2,"y":56},{"x":1023.1,"y":39},
  {"x":1023.0,"y":63},{"x":1022.9,"y":52},{"x":1022.8,"y":58},{"x":1022.7,"y":46},{"x":1022.6,"y":67},{"x":1022.5,"y":55},{"x":1022.4,"y":49},{"x":1022.3,"y":61},{"x":1022.2,"y":44},{"x":1022.1,"y":59},
  {"x":1022.0,"y":54},{"x":1021.9,"y":65},{"x":1021.8,"y":50},{"x":1021.7,"y":60},{"x":1021.6,"y":47},{"x":1021.5,"y":62},{"x":1021.4,"y":56},{"x":1021.3,"y":68},{"x":1021.2,"y":51},{"x":1021.1,"y":58},
  {"x":1021.0,"y":79},{"x":1020.9,"y":55},{"x":1020.8,"y":64},{"x":1020.7,"y":49},{"x":1020.6,"y":61},{"x":1020.5,"y":70},{"x":1020.4,"y":53},{"x":1020.3,"y":66},{"x":1020.2,"y":58},{"x":1020.1,"y":62},
  {"x":1020.0,"y":71},{"x":1019.9,"y":56},{"x":1019.8,"y":65},{"x":1019.7,"y":52},{"x":1019.6,"y":75},{"x":1019.5,"y":45},{"x":1019.4,"y":63},{"x":1019.3,"y":68},{"x":1019.2,"y":57},{"x":1019.1,"y":64},
  {"x":1019.0,"y":60},{"x":1018.9,"y":70},{"x":1018.8,"y":54},{"x":1018.7,"y":66},{"x":1018.6,"y":73},{"x":1018.5,"y":58},{"x":1018.4,"y":62},{"x":1018.3,"y":51},{"x":1018.2,"y":67},{"x":1018.1,"y":64},
  {"x":1018.0,"y":63}
 ]
},
"bounds": "flush",
"columns": 2,
"spacing": {"row": 93, "column": 72},
"concat": [
  {
   "width": 444, "height": 358,
   "title": {"text": "a", "dx": -36, "dy": 9, "offset": -13},
   "resolve": {"axis": {"x": "independent"}},
   "layer": [
    {
     "encoding": {
      "x": {"field": "x", "type": "quantitative", "title": "Binding energy (eV)", "scale": {"domain": [740, 702], "nice": false}, "axis": {"orient": "bottom", "values": [740,735,730,725,720,715,710,705], "titlePadding": 6}},
      "y": {"field": "y", "type": "quantitative", "title": "Intensity (a.u.)", "scale": {"domain": [0, 100], "nice": false}}
     },
     "layer": [
      {"data": {"name": "comp"}, "transform": [{"filter": "datum.c=='a1'"}], "mark": {"type": "area", "interpolate": "monotone", "fill": {"gradient": "linear", "x1": 0, "y1": 0, "x2": 0, "y2": 1, "stops": [{"offset": 0, "color": "#f24f52"}, {"offset": 1, "color": "#f7a0a0"}]}}, "encoding": {"y": {"field": "hi", "type": "quantitative", "title": "Intensity (a.u.)", "scale": {"domain": [0, 100], "nice": false}}, "y2": {"field": "lo"}}},
      {"data": {"name": "comp"}, "transform": [{"filter": "datum.c=='a2'"}], "mark": {"type": "area", "interpolate": "monotone", "fill": {"gradient": "linear", "x1": 0, "y1": 0, "x2": 0, "y2": 1, "stops": [{"offset": 0, "color": "#0b877f"}, {"offset": 1, "color": "#45d2c2"}]}}, "encoding": {"y": {"field": "hi", "type": "quantitative", "title": "Intensity (a.u.)", "scale": {"domain": [0, 100], "nice": false}}, "y2": {"field": "lo"}}},
      {"data": {"name": "comp"}, "transform": [{"filter": "datum.c=='a3'"}], "mark": {"type": "area", "interpolate": "monotone", "fill": {"gradient": "linear", "x1": 0, "y1": 0, "x2": 0, "y2": 1, "stops": [{"offset": 0, "color": "#f6b60c"}, {"offset": 1, "color": "#fdd655"}]}}, "encoding": {"y": {"field": "hi", "type": "quantitative", "title": "Intensity (a.u.)", "scale": {"domain": [0, 100], "nice": false}}, "y2": {"field": "lo"}}},
      {"data": {"name": "comp"}, "transform": [{"filter": "datum.c=='a4'"}], "mark": {"type": "area", "interpolate": "monotone", "stroke": "#1b467c", "strokeWidth": 1, "fill": {"gradient": "linear", "x1": 0, "y1": 0, "x2": 0, "y2": 1, "stops": [{"offset": 0, "color": "#1d4b85"}, {"offset": 1, "color": "#5f8bbf"}]}}, "encoding": {"y": {"field": "hi", "type": "quantitative", "title": "Intensity (a.u.)", "scale": {"domain": [0, 100], "nice": false}}, "y2": {"field": "lo"}}},
      {"data": {"name": "comp"}, "transform": [{"filter": "datum.c=='a5'"}], "mark": {"type": "area", "interpolate": "monotone", "fill": {"gradient": "linear", "x1": 0, "y1": 0, "x2": 0, "y2": 1, "stops": [{"offset": 0, "color": "#f24f52"}, {"offset": 1, "color": "#f7a0a0"}]}}, "encoding": {"y": {"field": "hi", "type": "quantitative", "title": "Intensity (a.u.)", "scale": {"domain": [0, 100], "nice": false}}, "y2": {"field": "lo"}}},
      {"data": {"name": "comp"}, "transform": [{"filter": "datum.c=='a6'"}], "mark": {"type": "area", "interpolate": "monotone", "fill": {"gradient": "linear", "x1": 0, "y1": 0, "x2": 0, "y2": 1, "stops": [{"offset": 0, "color": "#0b877f"}, {"offset": 1, "color": "#45d2c2"}]}}, "encoding": {"y": {"field": "hi", "type": "quantitative", "title": "Intensity (a.u.)", "scale": {"domain": [0, 100], "nice": false}}, "y2": {"field": "lo"}}},
      {"data": {"name": "comp"}, "transform": [{"filter": "datum.c=='a7'"}], "mark": {"type": "area", "interpolate": "monotone", "fill": {"gradient": "linear", "x1": 0, "y1": 0, "x2": 0, "y2": 1, "stops": [{"offset": 0, "color": "#f6b60c"}, {"offset": 1, "color": "#fdd655"}]}}, "encoding": {"y": {"field": "hi", "type": "quantitative", "title": "Intensity (a.u.)", "scale": {"domain": [0, 100], "nice": false}}, "y2": {"field": "lo"}}},
      {"data": {"name": "comp"}, "transform": [{"filter": "datum.c=='a8'"}], "mark": {"type": "area", "interpolate": "monotone", "stroke": "#1b467c", "strokeWidth": 1, "fill": {"gradient": "linear", "x1": 0, "y1": 0, "x2": 0, "y2": 1, "stops": [{"offset": 0, "color": "#1d4b85"}, {"offset": 1, "color": "#b9d0ec"}]}}, "encoding": {"y": {"field": "hi", "type": "quantitative", "title": "Intensity (a.u.)", "scale": {"domain": [0, 100], "nice": false}}, "y2": {"field": "lo"}}},
      {"data": {"name": "dots"}, "transform": [{"filter": "datum.p=='a'"}], "mark": {"type": "point", "filled": true, "size": 10, "color": "#333333", "opacity": 1}, "encoding": {}},
      {"data": {"name": "bg"}, "transform": [{"filter": "datum.p=='a'"}], "mark": {"type": "line", "color": "#b47ada", "strokeWidth": 2.5, "interpolate": "monotone"}, "encoding": {}},
      {"data": {"name": "env"}, "transform": [{"filter": "datum.p=='a'"}], "mark": {"type": "line", "color": "#b47ada", "strokeWidth": 2.5, "interpolate": "monotone"}, "encoding": {}},
      {"data": {"name": "lab"}, "transform": [{"filter": "datum.p=='a'"}], "mark": {"type": "text", "align": "right", "baseline": "alphabetic", "fontSize": 22}, "encoding": {"text": {"field": "base"}, "color": {"field": "k", "type": "nominal", "legend": null, "scale": {"domain": ["s3","t2","g3","b2","mn","sat","or","bk"], "range": ["#f26a6a","#17988f","#f6bf14","#2c5a8f","#1fbfc6","#6c95cc","#f0661c","#000000"]}}}},
      {"data": {"name": "lab"}, "transform": [{"filter": "datum.p=='a'"}], "mark": {"type": "text", "align": "left", "baseline": "alphabetic", "fontSize": 14, "dx": 1, "dy": -9}, "encoding": {"text": {"field": "sup"}, "color": {"field": "k", "type": "nominal", "legend": null, "scale": {"domain": ["s3","t2","g3","b2","mn","sat","or","bk"], "range": ["#f26a6a","#17988f","#f6bf14","#2c5a8f","#1fbfc6","#6c95cc","#f0661c","#000000"]}}}},
      {"data": {"name": "lab"}, "transform": [{"filter": "datum.p=='a'"}], "mark": {"type": "text", "align": "left", "baseline": "alphabetic", "fontSize": 14, "dx": 1, "dy": 6}, "encoding": {"text": {"field": "sub"}, "color": {"field": "k", "type": "nominal", "legend": null, "scale": {"domain": ["s3","t2","g3","b2","mn","sat","or","bk"], "range": ["#f26a6a","#17988f","#f6bf14","#2c5a8f","#1fbfc6","#6c95cc","#f0661c","#000000"]}}}},
      {"data": {"name": "ann"}, "transform": [{"filter": "datum.p=='a' && datum.s=='L'"}], "mark": {"type": "text", "align": "left", "baseline": "alphabetic", "fontSize": 23}, "encoding": {"text": {"field": "t"}, "color": {"field": "k", "type": "nominal", "legend": null, "scale": {"domain": ["s3","t2","g3","b2","mn","sat","or","bk"], "range": ["#f26a6a","#17988f","#f6bf14","#2c5a8f","#1fbfc6","#6c95cc","#f0661c","#000000"]}}}},
      {"data": {"name": "ann"}, "transform": [{"filter": "datum.p=='a' && datum.s=='R'"}], "mark": {"type": "text", "align": "right", "baseline": "alphabetic", "fontSize": 22}, "encoding": {"text": {"field": "t"}, "color": {"field": "k", "type": "nominal", "legend": null, "scale": {"domain": ["s3","t2","g3","b2","mn","sat","or","bk"], "range": ["#f26a6a","#17988f","#f6bf14","#2c5a8f","#1fbfc6","#6c95cc","#f0661c","#000000"]}}}}
     ]
    },
    {"data": {"values": [{"x":737.5},{"x":732.5},{"x":727.5},{"x":722.5},{"x":717.5},{"x":712.5},{"x":707.5},{"x":702.5}]}, "mark": {"type": "point", "opacity": 0}, "encoding": {"x": {"field": "x", "type": "quantitative", "scale": {"domain": [740, 702], "nice": false}, "axis": {"orient": "bottom", "values": [737.5,732.5,727.5,722.5,717.5,712.5,707.5,702.5], "labels": false, "tickSize": 3, "title": null}}}}
   ]
  },
  {
   "width": 444, "height": 358,
   "title": {"text": "b", "dx": -33, "dy": 9, "offset": -13},
   "resolve": {"axis": {"x": "independent"}},
   "layer": [
    {
     "encoding": {
      "x": {"field": "x", "type": "quantitative", "title": "Binding energy (eV)", "scale": {"domain": [660.2, 635], "nice": false}, "axis": {"orient": "bottom", "values": [660,655,650,645,640,635], "titlePadding": 6}},
      "y": {"field": "y", "type": "quantitative", "title": "Intensity (a.u.)", "scale": {"domain": [0, 100], "nice": false}}
     },
     "layer": [
      {"data": {"name": "comp"}, "transform": [{"filter": "datum.c=='b1'"}], "mark": {"type": "area", "interpolate": "monotone", "fill": "#6b93cb", "stroke": "#2b4e86", "strokeWidth": 1.5}, "encoding": {"y": {"field": "hi", "type": "quantitative", "title": "Intensity (a.u.)", "scale": {"domain": [0, 100], "nice": false}}, "y2": {"field": "lo"}}},
      {"data": {"name": "comp"}, "transform": [{"filter": "datum.c=='b3'"}], "mark": {"type": "area", "interpolate": "monotone", "fill": "#6b93cb", "stroke": "#2b4e86", "strokeWidth": 1.5}, "encoding": {"y": {"field": "hi", "type": "quantitative", "title": "Intensity (a.u.)", "scale": {"domain": [0, 100], "nice": false}}, "y2": {"field": "lo"}}},
      {"data": {"name": "comp"}, "transform": [{"filter": "datum.c=='b2'"}], "mark": {"type": "area", "interpolate": "monotone", "stroke": "#2b4e86", "strokeWidth": 2, "fill": {"gradient": "linear", "x1": 0, "y1": 0, "x2": 0, "y2": 1, "stops": [{"offset": 0, "color": "#0e8a88"}, {"offset": 1, "color": "#05e6ec"}]}}, "encoding": {"y": {"field": "hi", "type": "quantitative", "title": "Intensity (a.u.)", "scale": {"domain": [0, 100], "nice": false}}, "y2": {"field": "lo"}}},
      {"data": {"name": "comp"}, "transform": [{"filter": "datum.c=='b4'"}], "mark": {"type": "area", "interpolate": "monotone", "stroke": "#2b4e86", "strokeWidth": 2, "fill": {"gradient": "linear", "x1": 0, "y1": 0, "x2": 0, "y2": 1, "stops": [{"offset": 0, "color": "#0e8a88"}, {"offset": 1, "color": "#00f2f6"}]}}, "encoding": {"y": {"field": "hi", "type": "quantitative", "title": "Intensity (a.u.)", "scale": {"domain": [0, 100], "nice": false}}, "y2": {"field": "lo"}}},
      {"data": {"name": "dots"}, "transform": [{"filter": "datum.p=='b'"}], "mark": {"type": "point", "filled": true, "size": 10, "color": "#333333", "opacity": 1}, "encoding": {}},
      {"data": {"name": "bg"}, "transform": [{"filter": "datum.p=='b'"}], "mark": {"type": "line", "color": "#2b4e86", "strokeWidth": 2.2, "interpolate": "monotone"}, "encoding": {}},
      {"data": {"name": "env"}, "transform": [{"filter": "datum.p=='b'"}], "mark": {"type": "line", "color": "#2b4e86", "strokeWidth": 2.2, "interpolate": "monotone"}, "encoding": {}},
      {"data": {"name": "lab"}, "transform": [{"filter": "datum.p=='b'"}], "mark": {"type": "text", "align": "right", "baseline": "alphabetic", "fontSize": 22}, "encoding": {"text": {"field": "base"}, "color": {"field": "k", "type": "nominal", "legend": null, "scale": {"domain": ["s3","t2","g3","b2","mn","sat","or","bk"], "range": ["#f26a6a","#17988f","#f6bf14","#2c5a8f","#1fbfc6","#6c95cc","#f0661c","#000000"]}}}},
      {"data": {"name": "lab"}, "transform": [{"filter": "datum.p=='b'"}], "mark": {"type": "text", "align": "left", "baseline": "alphabetic", "fontSize": 14, "dx": 1, "dy": -9}, "encoding": {"text": {"field": "sup"}, "color": {"field": "k", "type": "nominal", "legend": null, "scale": {"domain": ["s3","t2","g3","b2","mn","sat","or","bk"], "range": ["#f26a6a","#17988f","#f6bf14","#2c5a8f","#1fbfc6","#6c95cc","#f0661c","#000000"]}}}},
      {"data": {"name": "ann"}, "transform": [{"filter": "datum.p=='b' && datum.s=='L'"}], "mark": {"type": "text", "align": "left", "baseline": "alphabetic", "fontSize": 23}, "encoding": {"text": {"field": "t"}, "color": {"field": "k", "type": "nominal", "legend": null, "scale": {"domain": ["s3","t2","g3","b2","mn","sat","or","bk"], "range": ["#f26a6a","#17988f","#f6bf14","#2c5a8f","#1fbfc6","#6c95cc","#f0661c","#000000"]}}}},
      {"data": {"name": "ann"}, "transform": [{"filter": "datum.p=='b' && datum.s=='R'"}], "mark": {"type": "text", "align": "right", "baseline": "alphabetic", "fontSize": 22}, "encoding": {"text": {"field": "t"}, "color": {"field": "k", "type": "nominal", "legend": null, "scale": {"domain": ["s3","t2","g3","b2","mn","sat","or","bk"], "range": ["#f26a6a","#17988f","#f6bf14","#2c5a8f","#1fbfc6","#6c95cc","#f0661c","#000000"]}}}}
     ]
    },
    {"data": {"values": [{"x":657.5},{"x":652.5},{"x":647.5},{"x":642.5},{"x":637.5}]}, "mark": {"type": "point", "opacity": 0}, "encoding": {"x": {"field": "x", "type": "quantitative", "scale": {"domain": [660.2, 635], "nice": false}, "axis": {"orient": "bottom", "values": [657.5,652.5,647.5,642.5,637.5], "labels": false, "tickSize": 3, "title": null}}}}
   ]
  },
  {
   "width": 444, "height": 358,
   "title": {"text": "c", "dx": -36, "dy": 9, "offset": -13},
   "resolve": {"axis": {"x": "independent"}},
   "layer": [
    {
     "encoding": {
      "x": {"field": "x", "type": "quantitative", "title": "Binding energy (eV)", "scale": {"domain": [166, 160], "nice": false}, "axis": {"orient": "bottom", "values": [166,164,162,160], "titlePadding": 12}},
      "y": {"field": "y", "type": "quantitative", "title": "Intensity (a.u.)", "scale": {"domain": [0, 100], "nice": false}}
     },
     "layer": [
      {"data": {"name": "comp"}, "transform": [{"filter": "datum.c=='c1'"}], "mark": {"type": "area", "interpolate": "monotone", "fill": {"gradient": "linear", "x1": 0, "y1": 0, "x2": 0, "y2": 1, "stops": [{"offset": 0, "color": "#2e9c5a"}, {"offset": 1, "color": "#c0e8cc"}]}}, "encoding": {"y": {"field": "hi", "type": "quantitative", "title": "Intensity (a.u.)", "scale": {"domain": [0, 100], "nice": false}}, "y2": {"field": "lo"}}},
      {"data": {"name": "comp"}, "transform": [{"filter": "datum.c=='c2'"}], "mark": {"type": "area", "interpolate": "monotone", "stroke": "#1a5fd2", "strokeWidth": 2, "fill": {"gradient": "linear", "x1": 0, "y1": 0, "x2": 0, "y2": 1, "stops": [{"offset": 0, "color": "#1763d6"}, {"offset": 1, "color": "#a3c3f4"}]}}, "encoding": {"y": {"field": "hi", "type": "quantitative", "title": "Intensity (a.u.)", "scale": {"domain": [0, 100], "nice": false}}, "y2": {"field": "lo"}}},
      {"data": {"name": "dots"}, "transform": [{"filter": "datum.p=='c'"}], "mark": {"type": "point", "filled": true, "size": 10, "color": "#333333", "opacity": 1}, "encoding": {}},
      {"data": {"name": "bg"}, "transform": [{"filter": "datum.p=='c'"}], "mark": {"type": "line", "color": "#b47ada", "strokeWidth": 2.5, "interpolate": "monotone"}, "encoding": {}},
      {"data": {"name": "env"}, "transform": [{"filter": "datum.p=='c'"}], "mark": {"type": "line", "color": "#b47ada", "strokeWidth": 2.5, "interpolate": "monotone"}, "encoding": {}},
      {"data": {"name": "ann"}, "transform": [{"filter": "datum.p=='c' && datum.s=='L'"}], "mark": {"type": "text", "align": "left", "baseline": "alphabetic", "fontSize": 23}, "encoding": {"text": {"field": "t"}, "color": {"field": "k", "type": "nominal", "legend": null, "scale": {"domain": ["s3","t2","g3","b2","mn","sat","or","bk"], "range": ["#f26a6a","#17988f","#f6bf14","#2c5a8f","#1fbfc6","#6c95cc","#f0661c","#000000"]}}}},
      {"data": {"name": "ann"}, "transform": [{"filter": "datum.p=='c' && datum.s=='R'"}], "mark": {"type": "text", "align": "right", "baseline": "alphabetic", "fontSize": 22}, "encoding": {"text": {"field": "t"}, "color": {"field": "k", "type": "nominal", "legend": null, "scale": {"domain": ["s3","t2","g3","b2","mn","sat","or","bk"], "range": ["#f26a6a","#17988f","#f6bf14","#2c5a8f","#1fbfc6","#6c95cc","#f0661c","#000000"]}}}}
     ]
    },
    {"data": {"values": [{"x":165},{"x":163},{"x":161}]}, "mark": {"type": "point", "opacity": 0}, "encoding": {"x": {"field": "x", "type": "quantitative", "scale": {"domain": [166, 160], "nice": false}, "axis": {"orient": "bottom", "values": [165,163,161], "labels": false, "tickSize": 3, "title": null}}}}
   ]
  },
  {
   "width": 444, "height": 358,
   "title": {"text": "d", "dx": -33, "dy": 9, "offset": -13},
   "resolve": {"axis": {"x": "independent"}},
   "layer": [
    {
     "encoding": {
      "x": {"field": "x", "type": "quantitative", "title": "Binding energy (eV)", "scale": {"domain": [1050, 1018], "nice": false}, "axis": {"orient": "bottom", "values": [1050,1045,1040,1035,1030,1025,1020], "titlePadding": 12}},
      "y": {"field": "y", "type": "quantitative", "title": "Intensity (a.u.)", "scale": {"domain": [0, 100], "nice": false}}
     },
     "layer": [
      {"data": {"name": "spec"}, "mark": {"type": "line", "color": "#555555", "strokeWidth": 1.9}, "encoding": {}},
      {"data": {"name": "ann"}, "transform": [{"filter": "datum.p=='d' && datum.s=='L'"}], "mark": {"type": "text", "align": "left", "baseline": "alphabetic", "fontSize": 23}, "encoding": {"text": {"field": "t"}, "color": {"field": "k", "type": "nominal", "legend": null, "scale": {"domain": ["s3","t2","g3","b2","mn","sat","or","bk"], "range": ["#f26a6a","#17988f","#f6bf14","#2c5a8f","#1fbfc6","#6c95cc","#f0661c","#000000"]}}}}
     ]
    },
    {"data": {"values": [{"x":1047.5},{"x":1042.5},{"x":1037.5},{"x":1032.5},{"x":1027.5},{"x":1022.5}]}, "mark": {"type": "point", "opacity": 0}, "encoding": {"x": {"field": "x", "type": "quantitative", "scale": {"domain": [1050, 1018], "nice": false}, "axis": {"orient": "bottom", "values": [1047.5,1042.5,1037.5,1032.5,1027.5,1022.5], "labels": false, "tickSize": 3, "title": null}}}}
   ]
  }
]
}
